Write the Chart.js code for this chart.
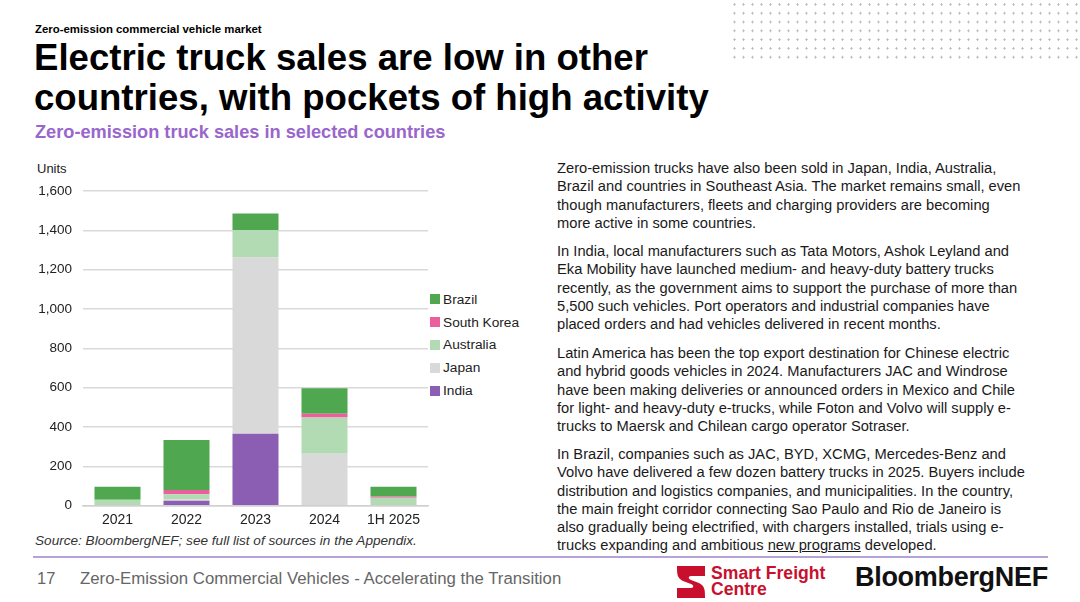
<!DOCTYPE html>
<html>
<head>
<meta charset="utf-8">
<script src="https://cdn.jsdelivr.net/npm/chart.js@4.4.1/dist/chart.umd.min.js"></script>
<style>
  html,body{margin:0;padding:0;background:#fff;}
  body{width:1080px;height:602px;position:relative;overflow:hidden;font-family:"Liberation Sans",Arial,sans-serif;color:#000;}
  .abs{position:absolute;white-space:nowrap;}
  #dots{position:absolute;left:730px;top:0;width:350px;height:62px;
    background-image:radial-gradient(circle,#b8b8b8 0.9px,transparent 1.3px);
    background-size:9px 8.8px;background-position:0px 0px;}
  #tag{left:35px;top:23px;font-size:11.4px;font-weight:bold;}
  #title{left:34px;top:38px;font-size:36.6px;font-weight:bold;line-height:40px;}
  #subtitle{left:35px;top:122px;font-size:18.2px;font-weight:bold;color:#9966cc;}
  #units{left:37px;top:161px;font-size:13px;color:#222;}
  #source{left:35px;top:533px;font-size:13.6px;font-style:italic;color:#333;}
  #chartbox{position:absolute;left:30px;top:172px;width:400px;height:358px;}
  #legend{position:absolute;left:430px;top:288px;font-size:13.7px;color:#222;}
  #legend .item{height:22.8px;display:flex;align-items:center;}
  #legend .sw{width:10px;height:10px;margin-right:3px;display:inline-block;}
  .para{position:absolute;left:557px;font-size:14.7px;line-height:18.3px;color:#1a1a1a;white-space:nowrap;}
  #rule{position:absolute;left:33px;top:556px;width:1015px;height:2px;background:#b7a2d8;}
  #pg{left:37px;top:569px;font-size:16.5px;color:#666;}
  #foot{left:80px;top:569px;font-size:16.8px;color:#666;}
  #sfc{left:711px;top:565px;font-size:17.6px;font-weight:bold;color:#c8102e;line-height:16px;}
  #bnef{left:855px;top:562px;font-size:27px;font-weight:bold;color:#111;letter-spacing:-0.3px;}
</style>
</head>
<body>
<div id="dots"></div>
<div class="abs" id="tag">Zero-emission commercial vehicle market</div>
<div class="abs" id="title">Electric truck sales are low in other<br>countries, with pockets of high activity</div>
<div class="abs" id="subtitle">Zero-emission truck sales in selected countries</div>
<div class="abs" id="units">Units</div>
<div id="chartbox"><canvas id="c"></canvas></div>
<div id="legend"></div>
<div class="abs" id="source">Source: BloombergNEF; see full list of sources in the Appendix.</div>

<div class="para" style="top:159px;">Zero-emission trucks have also been sold in Japan, India, Australia,<br>Brazil and countries in Southeast Asia. The market remains small, even<br>though manufacturers, fleets and charging providers are becoming<br>more active in some countries.</div>
<div class="para" style="top:242px;">In India, local manufacturers such as Tata Motors, Ashok Leyland and<br>Eka Mobility have launched medium- and heavy-duty battery trucks<br>recently, as the government aims to support the purchase of more than<br>5,500 such vehicles. Port operators and industrial companies have<br>placed orders and had vehicles delivered in recent months.</div>
<div class="para" style="top:344px;">Latin America has been the top export destination for Chinese electric<br>and hybrid goods vehicles in 2024. Manufacturers JAC and Windrose<br>have been making deliveries or announced orders in Mexico and Chile<br>for light- and heavy-duty e-trucks, while Foton and Volvo will supply e-<br>trucks to Maersk and Chilean cargo operator Sotraser.</div>
<div class="para" style="top:445px;">In Brazil, companies such as JAC, BYD, XCMG, Mercedes-Benz and<br>Volvo have delivered a few dozen battery trucks in 2025. Buyers include<br>distribution and logistics companies, and municipalities. In the country,<br>the main freight corridor connecting Sao Paulo and Rio de Janeiro is<br>also gradually being electrified, with chargers installed, trials using e-<br>trucks expanding and ambitious <u>new programs</u> developed.</div>

<div id="rule"></div>
<div class="abs" id="pg">17</div>
<div class="abs" id="foot">Zero-Emission Commercial Vehicles - Accelerating the Transition</div>
<svg style="position:absolute;left:677px;top:566px;" width="28" height="32" viewBox="0 0 28 32">
  <path d="M0 0 H28 V10 H14 C11 10 11 13 14 14 L22 17 C28 20 28 24 28 32 H0 V22 H14 C17 22 17 19 14 18 L6 15 C0 12 0 8 0 0 Z" fill="#c8102e"/>
</svg>
<div class="abs" id="sfc">Smart Freight<br>Centre</div>
<div class="abs" id="bnef">BloombergNEF</div>

<script>
const categories = ["2021", "2022", "2023", "2024", "1H 2025"];
const seriesNames = ["India", "Japan", "Australia", "South Korea", "Brazil"];
const india      = [0, 25, 366, 0, 0];
const japan      = [0, 8, 898, 264, 0];
const australia  = [30, 25, 138, 185, 41];
const southKorea = [0, 22, 0, 19, 6];
const brazil     = [67, 254, 84, 129, 50];
const seriesColors = ["#8b5db3", "#d9d9d9", "#b3dbb3", "#ea5f9c", "#4fa84f"];
const yTicks = [0, 200, 400, 600, 800, 1000, 1200, 1400, 1600];

const values = [india, japan, australia, southKorea, brazil];
const datasets = seriesNames.map((name, i) => ({
  label: name,
  data: values[i],
  backgroundColor: seriesColors[i],
  borderWidth: 0,
  barPercentage: 0.667,
  categoryPercentage: 1.0
}));

// HTML legend (reverse order: Brazil on top)
const lg = document.getElementById('legend');
for (let i = seriesNames.length - 1; i >= 0; i--) {
  const d = document.createElement('div');
  d.className = 'item';
  d.innerHTML = '<span class="sw" style="background:' + seriesColors[i] + '"></span>' + seriesNames[i];
  lg.appendChild(d);
}

new Chart(document.getElementById('c'), {
  type: 'bar',
  data: { labels: categories, datasets: datasets },
  options: {
    responsive: true,
    maintainAspectRatio: false,
    animation: false,
    devicePixelRatio: 1,
    layout: { padding: { top: 12, right: 2, left: 0, bottom: 0 } },
    plugins: { legend: { display: false }, tooltip: { enabled: false } },
    scales: {
      x: {
        stacked: true,
        grid: { display: false, drawTicks: false },
        border: { color: '#d0d0d0', width: 1.5 },
        ticks: { color: '#222', font: { family: 'Liberation Sans', size: 14 }, padding: 6 },
        afterFit: s => { s.height = 24.3; }
      },
      y: {
        stacked: true,
        min: 0, max: 1600,
        afterBuildTicks: s => { s.ticks = yTicks.map(v => ({ value: v })); },
        grid: { color: '#d9d9d9', lineWidth: 1.5, drawTicks: false },
        border: { display: false },
        ticks: {
          color: '#222', font: { family: 'Liberation Sans', size: 13.5 }, padding: 11,
          callback: v => v.toLocaleString('en-US')
        },
        afterFit: s => { s.width = 53; }
      }
    }
  }
});
</script>
</body>
</html>
